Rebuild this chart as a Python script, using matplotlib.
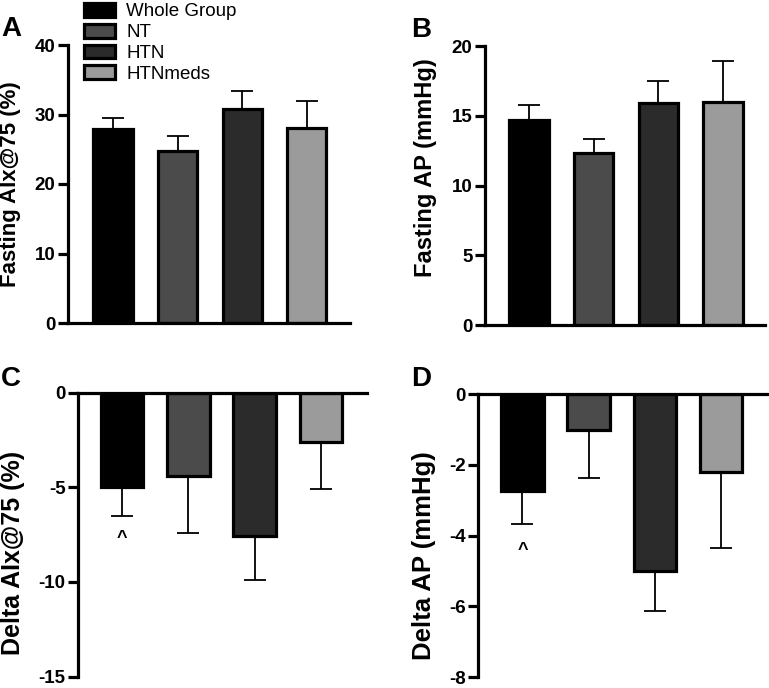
import matplotlib
matplotlib.use('Agg')
import matplotlib.pyplot as plt
from matplotlib.patches import Patch

plt.rcParams['font.family'] = ['Liberation Sans', 'DejaVu Sans']

groups = ['Whole Group', 'NT', 'HTN', 'HTNmeds']
colors = ['#000000', '#4b4b4b', '#2b2b2b', '#9b9b9b']

fasting_aix_mean = [27.9, 24.7, 30.8, 28.0]
fasting_aix_sem = [1.6, 2.2, 2.6, 3.9]
fasting_ap_mean = [14.7, 12.3, 15.9, 16.0]
fasting_ap_sem = [1.1, 1.0, 1.6, 2.9]
delta_aix_mean = [-5.0, -4.4, -7.6, -2.6]
delta_aix_sem = [1.5, 3.0, 2.3, 2.5]
delta_ap_mean = [-2.75, -1.0, -5.0, -2.2]
delta_ap_sem = [0.92, 1.36, 1.13, 2.14]

W, H = 769, 688
fig = plt.figure(figsize=(W / 100, H / 100), dpi=100)


def rect(x0, x1, ytop, ybot):
    return [x0 / W, 1 - ybot / H, (x1 - x0) / W, (ybot - ytop) / H]


LW = 2.3


def panel(r, means, sems, ylim, yticks, xlim, ylabel, label_fs, letter, letter_xy,
          label_xy, negative=False, bar_w=0.61, caret=None):
    ax = fig.add_axes(r)
    x = list(range(len(means)))
    if negative:
        yerr = [sems, [0] * len(sems)]
    else:
        yerr = [[0] * len(sems), sems]
    ax.errorbar(x, means, yerr=yerr, fmt='none', ecolor='black', elinewidth=1.3,
                capsize=7.9, capthick=1.3, zorder=1)
    ax.bar(x, means, width=bar_w, color=colors, edgecolor='black', linewidth=LW,
           zorder=2)
    ax.set_xlim(*xlim)
    ax.set_ylim(*ylim)
    ax.set_yticks(yticks)
    ax.set_yticklabels([str(t) for t in yticks], fontweight='bold', fontsize=13.5)
    ax.tick_params(axis='y', direction='out', length=7, width=LW, pad=2)
    ax.set_xticks([])
    for s in ['top', 'right']:
        ax.spines[s].set_visible(False)
    for s in ['left', 'bottom']:
        ax.spines[s].set_linewidth(LW)
    if negative:
        ax.spines['bottom'].set_position(('data', 0))
    ax.patch.set_visible(False)
    fig.text(label_xy[0] / W, 1 - label_xy[1] / H, ylabel, rotation=90,
             ha='center', va='center', fontsize=label_fs, fontweight='bold')
    fig.text(letter_xy[0] / W, 1 - letter_xy[1] / H, letter, ha='left', va='center',
             fontsize=20, fontweight='bold')
    if caret is not None:
        ax.text(0, caret, '^', ha='center', va='center', fontsize=13, fontweight='bold')
    return ax


axA = panel(rect(68, 350, 45, 323), fasting_aix_mean, fasting_aix_sem, (0, 40),
            [0, 10, 20, 30, 40], (-0.7, 3.67), 'Fasting AIx@75 (%)', 16, 'A', (1, 29),
            (11, 184))
axB = panel(rect(485, 765, 46, 325), fasting_ap_mean, fasting_ap_sem, (0, 20),
            [0, 5, 10, 15, 20], (-0.68, 3.65), 'Fasting AP (mmHg)', 17, 'B', (411, 30),
            (425, 168))
axC = panel(rect(78, 367, 392.7, 676.5), delta_aix_mean, delta_aix_sem, (-15, 0),
            [-15, -10, -5, 0], (-0.67, 3.70), 'Delta AIx@75 (%)', 18, 'C', (1, 379),
            (13, 553), negative=True, bar_w=0.64, caret=-7.72)
axD = panel(rect(478, 767, 394.3, 677), delta_ap_mean, delta_ap_sem, (-8, 0),
            [-8, -6, -4, -2, 0], (-0.67, 3.69), 'Delta AP (mmHg)', 18.5, 'D', (411, 379),
            (424, 556), negative=True, bar_w=0.64, caret=-4.43)

handles = [Patch(facecolor=c, edgecolor='black', linewidth=LW) for c in colors]
fig.legend(handles, groups, loc='upper left', bbox_to_anchor=(84 / W, 1 - 3 / H),
           frameon=False, fontsize=13.5, handlelength=1.65, handleheight=0.75,
           handletextpad=0.6, labelspacing=0.18, borderpad=0, borderaxespad=0)

fig.savefig('out.png', dpi=100)
